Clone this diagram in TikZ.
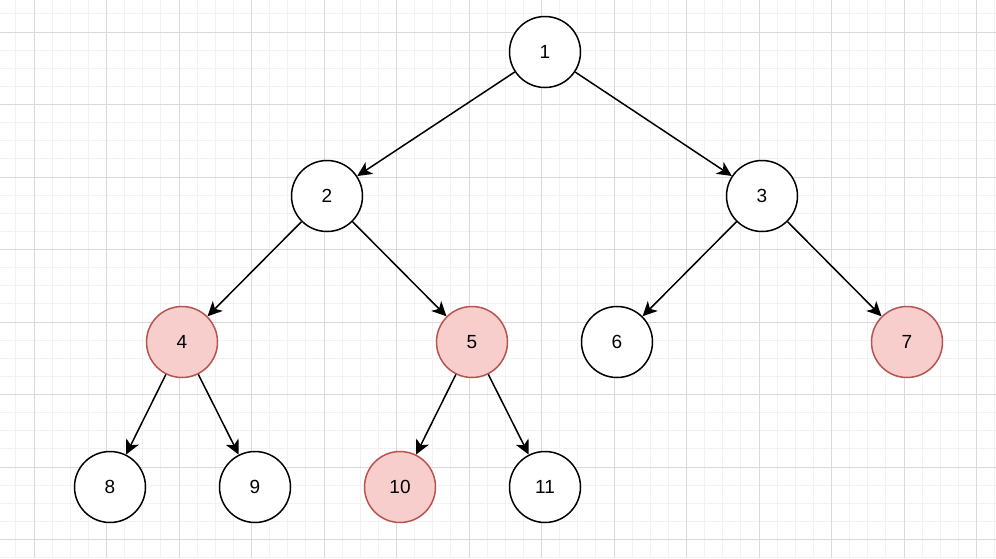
\documentclass[tikz,border=0pt]{standalone}
\usepackage{fontspec}
\setmainfont{Liberation Sans}
\usetikzlibrary{arrows.meta}
\definecolor{gridminor}{HTML}{F2F2F2}
\definecolor{gridmajor}{HTML}{DADADA}
\definecolor{pinkfill}{HTML}{F8CECC}
\definecolor{pinkdraw}{HTML}{B85450}
\tikzset{
  treenode/.style={circle, draw=black, fill=white, line width=1.5pt, minimum size=71pt, inner sep=0pt, font=\fontsize{19}{22}\selectfont},
  marked/.style={treenode, fill=pinkfill, draw=pinkdraw},
  edge/.style={line width=1.5pt, -{Stealth[length=14.5pt, width=14pt, inset=4pt]}},
  minorline/.style={gridminor, line width=1pt},
  majorline/.style={gridmajor, line width=1pt}
}
\begin{document}
\begin{tikzpicture}[x=1pt, y=-1pt]
\useasboundingbox (0,0) rectangle (996,558);
\fill[white] (0,0) rectangle (996,558);
% grid
\foreach \i in {-1,...,53} {
  \draw[minorline] ({34+18.125*\i},0) -- ({34+18.125*\i},558);
}
\foreach \i in {-1,...,29} {
  \draw[minorline] (0,{32+18.125*\i}) -- (996,{32+18.125*\i});
}
\foreach \i in {0,...,13} {
  \draw[majorline] ({34+72.5*\i},0) -- ({34+72.5*\i},558);
}
\foreach \i in {0,...,7} {
  \draw[majorline] (0,{32+72.5*\i}) -- (996,{32+72.5*\i});
}
% nodes
\node[treenode] (n1) at (545,52) {1};
\node[treenode] (n2) at (327,196) {2};
\node[treenode] (n3) at (762,196) {3};
\node[marked] (n4) at (182,342) {4};
\node[marked] (n5) at (472,342) {5};
\node[treenode] (n6) at (617,342) {6};
\node[marked] (n7) at (907,342) {7};
\node[treenode] (n8) at (110,487) {8};
\node[treenode] (n9) at (255,487) {9};
\node[marked] (n10) at (400,487) {10};
\node[treenode] (n11) at (545,487) {11};
% edges
\draw[edge] (n1) -- (n2);
\draw[edge] (n1) -- (n3);
\draw[edge] (n2) -- (n4);
\draw[edge] (n2) -- (n5);
\draw[edge] (n3) -- (n6);
\draw[edge] (n3) -- (n7);
\draw[edge] (n4) -- (n8);
\draw[edge] (n4) -- (n9);
\draw[edge] (n5) -- (n10);
\draw[edge] (n5) -- (n11);
\end{tikzpicture}
\end{document}
